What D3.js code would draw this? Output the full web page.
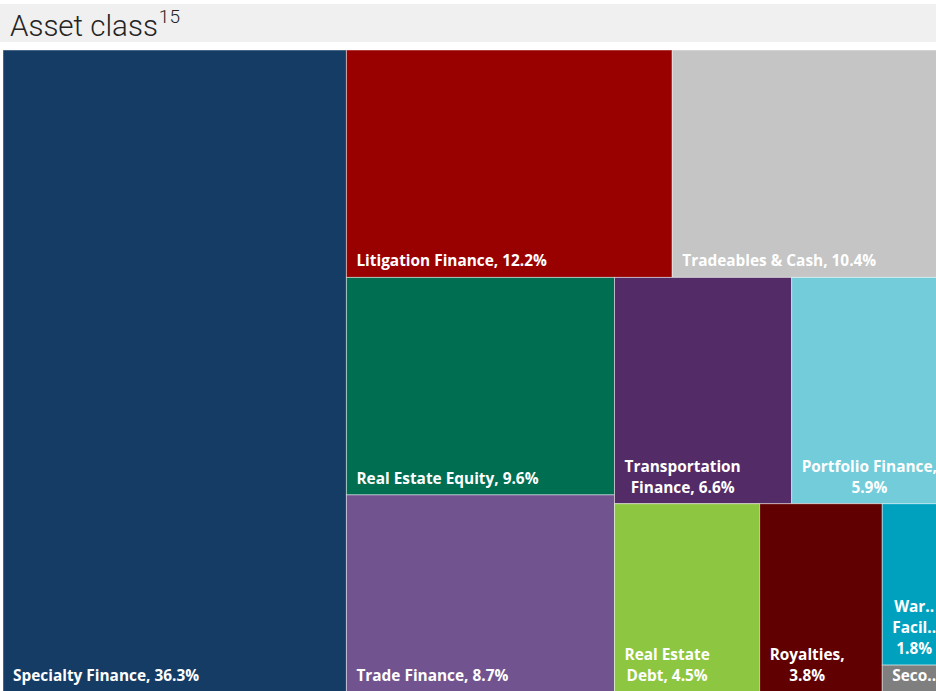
<!DOCTYPE html>
<html>
<head>
<meta charset="utf-8">
<script src="https://cdn.jsdelivr.net/npm/d3@7/dist/d3.min.js"></script>
<style>
  html, body { margin: 0; padding: 0; background: #ffffff; overflow: hidden; }
  svg { display: block; }
</style>
</head>
<body>
<svg id="chart" width="936" height="691"></svg>
<script>
// ---- Data ----
const titleText = "Asset class";
const titleNote = "15";
const categories = [
  "Specialty Finance", "Litigation Finance", "Tradeables & Cash", "Real Estate Equity",
  "Trade Finance", "Transportation Finance", "Portfolio Finance", "Real Estate Debt",
  "Royalties", "Warehouse Facility", "Secondaries"
];
const shares = [36.3, 12.2, 10.4, 9.6, 8.7, 6.6, 5.9, 4.5, 3.8, 1.8, 0.3];
const colors = [
  "#143c64", "#990000", "#c4c5c4", "#006e51",
  "#71538f", "#532b67", "#72ccda", "#8dc640",
  "#600000", "#00a1bf", "#7f7f7f"
];

// ---- Layout ----
const svg = d3.select("#chart");
const W = 936, H = 691;
const tmX = 3, tmY = 50, tmW = 947, tmH = 642;

// Title band
svg.append("rect").attr("x", 0).attr("y", 4).attr("width", W).attr("height", 38).attr("fill", "#f0f0f0");
const title = svg.append("text")
  .attr("x", 10).attr("y", 36)
  .attr("font-family", "Roboto, sans-serif")
  .attr("font-weight", 300)
  .attr("font-size", 29.5)
  .attr("fill", "#252423");
title.append("tspan").text(titleText);
title.append("tspan").attr("dx", 1).attr("dy", -13).attr("font-size", 19).text(titleNote);

// Treemap
const rootData = { name: "root", children: categories.map((c, i) => ({ name: c, value: shares[i], color: colors[i] })) };
const root = d3.hierarchy(rootData).sum(d => d.value || 0);
d3.treemap()
  .tile(d3.treemapSquarify.ratio(1))
  .size([tmW, tmH])
  .round(false)(root);

const g = svg.append("g").attr("transform", `translate(${tmX},${tmY})`);
const cells = g.selectAll("g.cell").data(root.leaves()).join("g").attr("class", "cell");

cells.append("rect")
  .attr("x", d => d.x0).attr("y", d => d.y0)
  .attr("width", d => d.x1 - d.x0).attr("height", d => d.y1 - d.y0)
  .attr("fill", d => d.data.color)
  .attr("stroke", "rgba(255,255,255,0.45)")
  .attr("stroke-width", 1);

// Labels
const fontFamily = "'Open Sans', 'Noto Sans', sans-serif";
const fontSize = 15.4;
const lineH = 21;
const pad = 10;

const measurer = svg.append("text")
  .attr("font-family", fontFamily).attr("font-weight", 700).attr("font-size", fontSize)
  .attr("visibility", "hidden");
function tw(s) { measurer.text(s); return measurer.node().getComputedTextLength(); }

function truncate(word, maxW) {
  if (tw(word) <= maxW) return word;
  let s = word;
  while (s.length > 1 && tw(s + "..") > maxW) s = s.slice(0, -1);
  return s + "..";
}

function layoutLines(label, maxW, maxLines) {
  const words = label.split(" ");
  const lines = [];
  let cur = "";
  words.forEach(w => {
    const trial = cur ? cur + " " + w : w;
    if (tw(trial) <= maxW || !cur) { cur = trial; }
    else { lines.push(cur); cur = w; }
  });
  if (cur) lines.push(cur);
  return lines.slice(0, maxLines).map(l => truncate(l, maxW));
}

cells.each(function(d) {
  const cw = d.x1 - d.x0, ch = d.y1 - d.y0;
  const label = `${d.data.name}, ${d3.format(".1f")(d.data.value)}%`;
  const maxLines = Math.max(1, Math.floor((ch - 6) / lineH));
  const lines = layoutLines(label, cw - 2 * pad - 2, maxLines);
  const blockW = d3.max(lines, tw);
  const cx = d.x0 + pad + blockW / 2;
  const baseY = d.y1 - 11;
  const t = d3.select(this).append("text")
    .attr("font-family", fontFamily).attr("font-weight", 700).attr("font-size", fontSize)
    .attr("fill", "#ffffff").attr("text-anchor", "middle");
  lines.forEach((l, i) => {
    t.append("tspan").attr("x", cx).attr("y", baseY - (lines.length - 1 - i) * lineH).text(l);
  });
});
measurer.remove();
</script>
</body>
</html>
